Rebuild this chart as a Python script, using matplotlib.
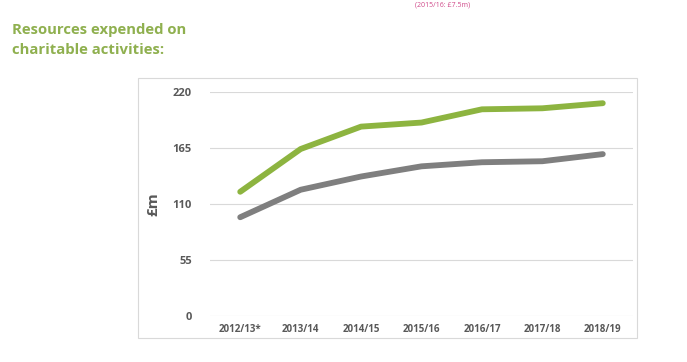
import matplotlib.pyplot as plt
from matplotlib.patches import Rectangle

# data
years = ["2012/13*", "2013/14", "2014/15", "2015/16", "2016/17", "2017/18", "2018/19"]
green_vals = [122, 164, 186, 190, 203, 204, 209]
grey_vals = [97, 124, 137, 147, 151, 152, 159]
yticks = [0, 55, 110, 165, 220]

green = "#8db440"
grey = "#7f7f7f"
title_green = "#8fb04f"
text_grey = "#595959"

plt.rcParams['font.family'] = ['Open Sans', 'DejaVu Sans']

fig = plt.figure(figsize=(6.87, 3.62), dpi=100)

# outer chart frame
fig.patches.append(Rectangle((138 / 687, 1 - 338 / 362), (637 - 138) / 687, (338 - 78) / 362,
                             transform=fig.transFigure, fill=False, edgecolor="#d9d9d9", lw=0.8))

ax = fig.add_axes([210 / 687, 46 / 362, 423 / 687, 224 / 362])
x = range(len(years))
ax.plot(x, green_vals, color=green, lw=4.2, solid_capstyle="round", solid_joinstyle="round", zorder=3)
ax.plot(x, grey_vals, color=grey, lw=4.2, solid_capstyle="round", solid_joinstyle="round", zorder=3)

ax.set_xlim(-0.5, len(years) - 0.5)
ax.set_ylim(0, 220)
ax.set_yticks(yticks)
ax.set_xticks(list(x))
ax.set_xticklabels(years)
ax.grid(axis="y", color="#d9d9d9", lw=0.8)
ax.set_axisbelow(True)
for s in ax.spines.values():
    s.set_visible(False)
ax.tick_params(length=0, colors=text_grey, labelsize=7)
ax.tick_params(axis="y", pad=13, labelsize=8)
ax.tick_params(axis="x", pad=6)
for lab in ax.get_xticklabels() + ax.get_yticklabels():
    lab.set_fontweight("bold")
ax.set_ylabel("£m", color=text_grey, fontsize=11, fontweight="bold", labelpad=9)

fig.text(12 / 687, 1 - 30 / 362, "Resources expended on", color=title_green,
         fontsize=10.7, fontweight="bold", va="center")
fig.text(12 / 687, 1 - 50 / 362, "charitable activities:", color=title_green,
         fontsize=10.7, fontweight="bold", va="center")
fig.text(443 / 687, 1 - 5 / 362, "(2015/16: £7.5m)", color="#d04a8a",
         fontsize=5, ha="center", va="center")

fig.savefig("out.png", dpi=100)
